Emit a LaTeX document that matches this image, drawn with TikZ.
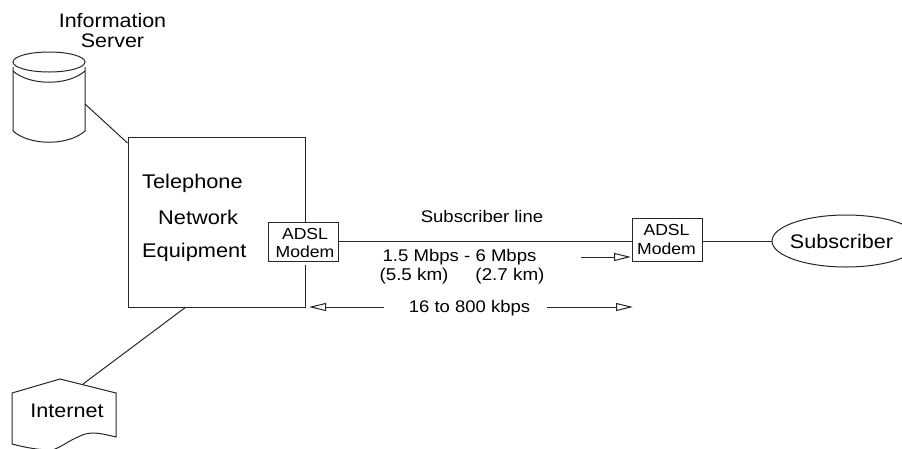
\documentclass[tikz,border=0pt]{standalone}
\usepackage{fontspec}
\setmainfont[FakeStretch=1.1]{Liberation Sans}
\usetikzlibrary{arrows.meta,shapes.geometric}
\tikzset{
  ln/.style={line width=1pt,draw=black!85},
  lbl/.style={inner sep=0pt,align=center,font=\fontsize{#1}{#1}\selectfont},
  lbl/.default=19,
  modembox/.style={ln,fill=white,rectangle,inner sep=0pt},
  modemtext/.style={inner sep=0pt,align=center,font=\fontsize{16}{18.5}\selectfont},
  rate/.style={ln,-{Triangle[open,fill=white,length=17pt,width=8pt]}},
}
\begin{document}
\begin{tikzpicture}[x=1pt,y=-1pt]
\useasboundingbox (0,0) rectangle (902,448);
\clip (0,0) rectangle (902,448);
% server
\node[inner sep=0pt,align=center,font=\fontsize{19.5}{20}\selectfont] (infotitle) at (112.5,30.5) {Information\\Server};
\draw[ln] (13,67) -- (13,131) .. controls (30,146) and (68,146) .. (85,131) -- (85,67);
\draw[ln] (13,71) .. controls (30,86) and (68,86) .. (85,71);
\draw[ln] (49,62) ellipse (36 and 10);
\coordinate (serverport) at (85,104);
% equipment
\node[ln,rectangle,minimum width=177pt,minimum height=170pt,inner sep=0pt] (equip) at (216.5,222) {};
\node[lbl=19.8,anchor=west] (tel) at (142,183) {Telephone};
\node[lbl=19.8,anchor=west] (net) at (158,217) {Network};
\node[lbl=19.8,anchor=west] (eq) at (142,252) {Equipment};
\fill[white] (300,261) rectangle (310,265);
\node[modembox,minimum width=70pt,minimum height=39pt] (modemA) at (303,241.5) {};
\node[modemtext] (modemAtext) at (305,243) {ADSL\\Modem};
\node[modembox,minimum width=70pt,minimum height=43pt] (modemB) at (667,239.5) {};
\node[modemtext] (modemBtext) at (666.5,239.5) {ADSL\\Modem};
\node[ln,ellipse,minimum width=148pt,minimum height=52pt,inner sep=0pt] (subscriber) at (846,241) {};
\node[lbl=19.6] (subscribertext) at (841.5,241) {Subscriber};
\draw[ln] (modemA.east) -- (modemA.east -| modemB.west);
\draw[ln] (modemB.east |- subscriber.west) -- (subscriber.west);
\draw[ln] (serverport) -- (equip.north west |- 128,143);
% internet
\draw[ln] (12,393) -- (60,379) -- (116,393) -- (116,437) .. controls (100,433) and (90,431) .. (80,436) .. controls (68,441) and (60,448) .. (52,450) .. controls (35,450) and (20,446) .. (12,444) -- cycle;
\node[lbl=19.6] (internet) at (67,411) {Internet};
\coordinate (internetport) at (83,384);
\draw[ln] (internetport) -- (186,307);
% labels
\node[lbl=16.8] (subline) at (482,216) {Subscriber line};
\node[lbl=16.9] (down) at (459.5,257) {1.5 Mbps - 6 Mbps};
\node[lbl=17.1] (dist) at (462,276) {(5.5 km)\hspace{27pt}(2.7 km)};
\node[lbl=16.8] (up) at (469.5,308) {16 to 800 kbps};
\coordinate (a1) at (581,257); \coordinate (a2) at (631,257);
\coordinate (b1) at (384,307); \coordinate (b2) at (309,307);
\coordinate (c1) at (547,307); \coordinate (c2) at (633,307);
\draw[rate] (a1) -- (a2);
\draw[rate] (b1) -- (b2);
\draw[rate] (c1) -- (c2);
\end{tikzpicture}
\end{document}
